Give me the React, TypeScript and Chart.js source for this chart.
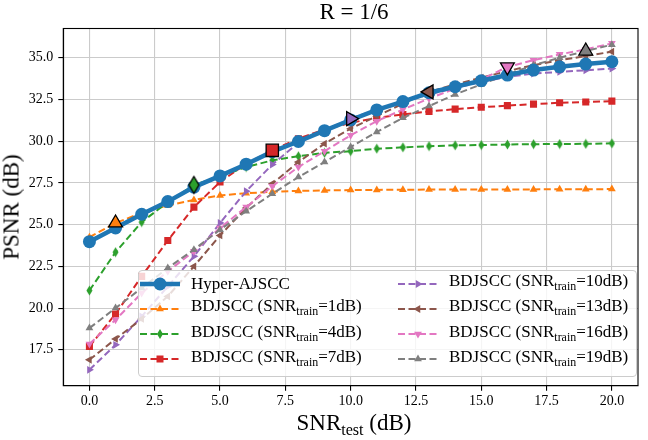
import React, { useEffect, useRef } from 'react';
import Chart from 'chart.js/auto';

// SNR_test (dB) on the x axis
const snrTest = [0, 1, 2, 3, 4, 5, 6, 7, 8, 9, 10, 11, 12, 13, 14, 15, 16, 17, 18, 19, 20];
const xTicks = [0, 2.5, 5, 7.5, 10, 12.5, 15, 17.5, 20];
const yTicks = [17.5, 20, 22.5, 25, 27.5, 30, 32.5, 35];

// PSNR (dB)
const hyperAjscc = [23.98, 24.8, 25.62, 26.38, 27.25, 27.92, 28.62, 29.37, 29.98, 30.63, 31.27, 31.87, 32.37, 32.9, 33.26, 33.62, 33.96, 34.26, 34.46, 34.62, 34.76];
const bdjscc1 = [24.25, 25.1, 25.7, 26.15, 26.48, 26.75, 26.88, 26.97, 27.02, 27.05, 27.07, 27.08, 27.09, 27.1, 27.1, 27.1, 27.11, 27.11, 27.12, 27.12, 27.13];
const bdjscc4 = [21.05, 23.35, 25.15, 26.35, 27.38, 27.88, 28.45, 28.85, 29.1, 29.3, 29.4, 29.55, 29.63, 29.7, 29.75, 29.77, 29.8, 29.82, 29.83, 29.84, 29.87];
const bdjscc7 = [17.7, 19.65, 21.9, 24.05, 26.05, 27.55, 28.65, 29.45, 30.15, 30.7, 31.1, 31.4, 31.6, 31.78, 31.92, 32.03, 32.13, 32.22, 32.3, 32.35, 32.4];
const bdjscc10 = [16.3, 17.8, 19.5, 21.3, 23.1, 25.1, 27.0, 28.6, 29.9, 30.65, 31.35, 31.9, 32.35, 32.8, 33.2, 33.55, 33.85, 34.05, 34.15, 34.25, 34.35];
const bdjscc13 = [16.9, 18.15, 19.35, 20.7, 22.5, 24.35, 26.0, 27.45, 28.75, 29.85, 30.75, 31.5, 32.25, 32.95, 33.4, 33.8, 34.2, 34.55, 34.85, 35.1, 35.36];
const bdjscc16 = [17.85, 19.3, 20.9, 22.2, 23.4, 24.8, 26.05, 27.3, 28.45, 29.4, 30.35, 31.2, 31.9, 32.55, 33.15, 33.7, 34.45, 34.85, 35.2, 35.5, 35.86];
const bdjscc19 = [18.8, 20.0, 21.2, 22.4, 23.5, 24.7, 25.8, 26.85, 27.85, 28.75, 29.65, 30.55, 31.4, 32.1, 32.8, 33.4, 34.0, 34.55, 35.0, 35.4, 35.78];
const trainSnr = [1, 4, 7, 10, 13, 16, 19];

const SERIF = "'Liberation Serif', 'DejaVu Serif', serif";

type Shape = 'circle' | 'tri' | 'rect' | 'diamond';

interface Series {
  values: number[];
  color: string;
  shape: Shape;
  rot: number;
  train: number;
}

const bdSeries: Series[] = [
  { values: bdjscc1, color: '#ff7f0e', shape: 'tri', rot: 0, train: trainSnr[0] },
  { values: bdjscc4, color: '#2ca02c', shape: 'diamond', rot: 0, train: trainSnr[1] },
  { values: bdjscc7, color: '#d62728', shape: 'rect', rot: 0, train: trainSnr[2] },
  { values: bdjscc10, color: '#9467bd', shape: 'tri', rot: 90, train: trainSnr[3] },
  { values: bdjscc13, color: '#8c564b', shape: 'tri', rot: 270, train: trainSnr[4] },
  { values: bdjscc16, color: '#e377c2', shape: 'tri', rot: 180, train: trainSnr[5] },
  { values: bdjscc19, color: '#7f7f7f', shape: 'tri', rot: 0, train: trainSnr[6] },
];

// thin diamond ('d' marker) as a small canvas
function thinDiamond(w: number, h: number, fill: string, stroke?: string) {
  const pad = stroke ? 1.5 : 0.5;
  const c = document.createElement('canvas');
  c.width = Math.ceil(w + pad * 2);
  c.height = Math.ceil(h + pad * 2);
  const g = c.getContext('2d')!;
  const cx = c.width / 2;
  const cy = c.height / 2;
  g.beginPath();
  g.moveTo(cx, cy - h / 2);
  g.lineTo(cx + w / 2, cy);
  g.lineTo(cx, cy + h / 2);
  g.lineTo(cx - w / 2, cy);
  g.closePath();
  g.fillStyle = fill;
  g.fill();
  if (stroke) {
    g.strokeStyle = stroke;
    g.lineWidth = 1.3;
    g.stroke();
  }
  return c;
}

const framePlugin = {
  id: 'frame',
  afterDatasetsDraw(chart: any) {
    const { ctx, chartArea: a } = chart;
    ctx.save();
    ctx.strokeStyle = '#000';
    ctx.lineWidth = 1.1;
    ctx.strokeRect(a.left, a.top, a.right - a.left, a.bottom - a.top);
    ctx.restore();
  },
};

function LegendMarker({ shape, rot, color }: { shape: Shape; rot: number; color: string }) {
  const cx = 20;
  const cy = 10;
  if (shape === 'circle') return <circle cx={cx} cy={cy} r={6.5} fill={color} />;
  if (shape === 'rect') return <rect x={cx - 3.5} y={cy - 3.5} width={7} height={7} fill={color} />;
  if (shape === 'diamond')
    return <polygon points={`${cx},${cy - 5} ${cx + 3},${cy} ${cx},${cy + 5} ${cx - 3},${cy}`} fill={color} />;
  const r = 4.5;
  const pts = [0, 120, 240]
    .map((k) => {
      const ang = ((rot + k) * Math.PI) / 180;
      return `${cx + Math.sin(ang) * r},${cy - Math.cos(ang) * r}`;
    })
    .join(' ');
  return <polygon points={pts} fill={color} />;
}

function LegendRow({ x, y, label, color, shape, rot, solid }: any) {
  return (
    <div style={{ position: 'absolute', left: x, top: y - 10, height: 20, display: 'flex', alignItems: 'center' }}>
      <svg width={40} height={20} style={{ display: 'block' }}>
        <line
          x1={0}
          y1={10}
          x2={40}
          y2={10}
          stroke={color}
          strokeWidth={solid ? 4.5 : 2}
          strokeDasharray={solid ? undefined : '7 3.5'}
        />
        <LegendMarker shape={shape} rot={rot} color={color} />
      </svg>
      <span style={{ marginLeft: 11, fontSize: 17, lineHeight: '17px', whiteSpace: 'nowrap' }}>{label}</span>
    </div>
  );
}

const sub = (t: string) => (
  <span style={{ fontSize: '0.7em', verticalAlign: '-0.3em' }}>{t}</span>
);

const bdLabel = (n: number) => (
  <>
    BDJSCC (SNR{sub('train')}={n}dB)
  </>
);

export default function App() {
  const canvasRef = useRef<HTMLCanvasElement | null>(null);

  useEffect(() => {
    if (!canvasRef.current) return;
    const ctx = canvasRef.current.getContext('2d');
    if (!ctx) return;

    const smallDiamond = thinDiamond(6, 10, '#2ca02c');
    const bigDiamond = thinDiamond(10, 17, '#2ca02c', '#000');

    const lineSets: any[] = bdSeries.map((s, i) => ({
      data: snrTest.map((x, j) => ({ x, y: s.values[j] })),
      borderColor: s.color,
      backgroundColor: s.color,
      borderWidth: 2,
      borderDash: [7, 3.5],
      pointStyle: s.shape === 'tri' ? 'triangle' : s.shape === 'rect' ? 'rect' : smallDiamond,
      pointRotation: s.rot,
      pointRadius: s.shape === 'rect' ? 5 : 4.5,
      pointBorderWidth: 0,
      pointBackgroundColor: s.color,
      order: 8 - i,
    }));

    const bigSets: any[] = bdSeries.map((s) => ({
      data: [{ x: s.train, y: s.values[snrTest.indexOf(s.train)] }],
      showLine: false,
      pointStyle: s.shape === 'tri' ? 'triangle' : s.shape === 'rect' ? 'rect' : bigDiamond,
      pointRotation: s.rot,
      pointRadius: s.shape === 'rect' ? 8.7 : 8,
      pointBackgroundColor: s.color,
      pointBorderColor: '#000',
      pointBorderWidth: 1.3,
      order: 0,
    }));

    const chart = new Chart(ctx, {
      type: 'line',
      data: {
        datasets: [
          ...bigSets,
          {
            data: snrTest.map((x, j) => ({ x, y: hyperAjscc[j] })),
            borderColor: '#1f77b4',
            backgroundColor: '#1f77b4',
            borderWidth: 4.5,
            pointStyle: 'circle',
            pointRadius: 6.5,
            pointBorderWidth: 0,
            pointBackgroundColor: '#1f77b4',
            order: 1,
          },
          ...lineSets,
        ],
      },
      options: {
        animation: false,
        responsive: false,
        events: [],
        layout: { padding: { top: 28.5, right: 2.7, left: 0, bottom: 0 } },
        plugins: { legend: { display: false }, title: { display: false }, tooltip: { enabled: false } },
        scales: {
          x: {
            type: 'linear',
            min: -1,
            max: 21,
            afterBuildTicks: (s: any) => {
              s.ticks = xTicks.map((v) => ({ value: v }));
            },
            afterFit: (s: any) => {
              s.height = 54.3;
            },
            grid: { color: '#cbcbcb', lineWidth: 1.1, tickColor: '#000', tickLength: 5 },
            border: { display: true, color: '#000', width: 1.1 },
            ticks: {
              font: { family: SERIF, size: 14 },
              color: '#000',
              padding: 2,
              maxRotation: 0,
              autoSkip: false,
              callback: (v: any) => Number(v).toFixed(1),
            },
          },
          y: {
            type: 'linear',
            min: 15.35,
            max: 36.75,
            afterBuildTicks: (s: any) => {
              s.ticks = yTicks.map((v) => ({ value: v }));
            },
            afterFit: (s: any) => {
              s.width = 63.3;
            },
            grid: { color: '#cbcbcb', lineWidth: 1.1, tickColor: '#000', tickLength: 5 },
            border: { display: true, color: '#000', width: 1.1 },
            ticks: {
              font: { family: SERIF, size: 14 },
              color: '#000',
              padding: 5,
              autoSkip: false,
              callback: (v: any) => Number(v).toFixed(1),
            },
          },
        },
      },
      plugins: [framePlugin],
    });

    return () => chart.destroy();
  }, []);

  const rowY = [283.5, 308.7, 333.9, 359.1];

  return (
    <div
      style={{
        position: 'fixed',
        left: 0,
        top: 0,
        width: 648,
        height: 440,
        background: '#fff',
        fontFamily: SERIF,
        color: '#000',
      }}
    >
      <canvas ref={canvasRef} width={648} height={440} style={{ width: 648, height: 440, display: 'block' }} />
      <div
        style={{
          position: 'absolute',
          left: 354,
          top: 0,
          transform: 'translateX(-50%)',
          fontSize: 23,
          lineHeight: '23px',
          whiteSpace: 'nowrap',
        }}
      >
        R = 1/6
      </div>
      <div
        style={{
          position: 'absolute',
          left: 354,
          top: 411,
          transform: 'translateX(-50%)',
          fontSize: 23,
          lineHeight: '23px',
          whiteSpace: 'nowrap',
        }}
      >
        SNR{sub('test')} (dB)
      </div>
      <div
        style={{
          position: 'absolute',
          left: 10.5,
          top: 207,
          transform: 'translate(-50%, -50%) rotate(-90deg)',
          fontSize: 23,
          lineHeight: '23px',
          whiteSpace: 'nowrap',
        }}
      >
        PSNR (dB)
      </div>
      <div
        style={{
          position: 'absolute',
          left: 137.5,
          top: 270,
          width: 499,
          height: 106.5,
          boxSizing: 'border-box',
          background: 'rgba(255,255,255,0.8)',
          border: '1px solid #cccccc',
          borderRadius: 4,
        }}
      />
      <LegendRow x={140} y={rowY[0]} label="Hyper-AJSCC" color="#1f77b4" shape="circle" rot={0} solid />
      {bdSeries.map((s, i) => (
        <LegendRow
          key={s.train}
          x={i < 3 ? 140 : 398}
          y={rowY[(i + 1) % 4]}
          label={bdLabel(s.train)}
          color={s.color}
          shape={s.shape}
          rot={s.rot}
        />
      ))}
    </div>
  );
}
